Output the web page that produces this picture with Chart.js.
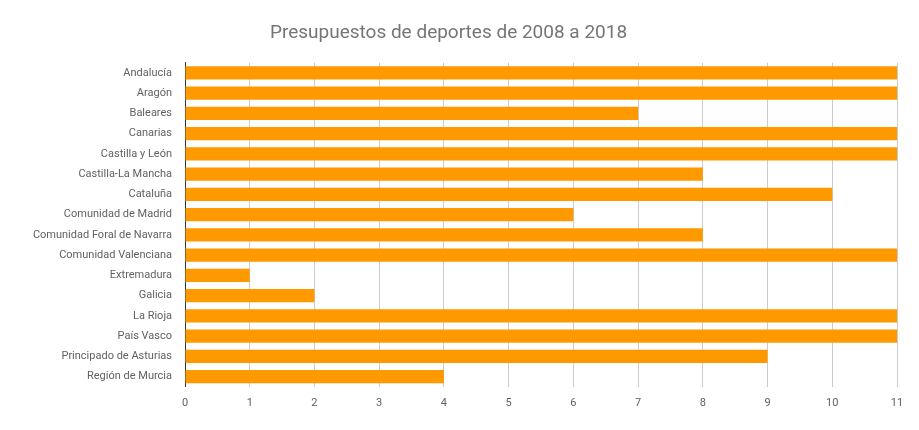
<!DOCTYPE html>
<html>
<head>
<meta charset="utf-8">
<script src="https://cdn.jsdelivr.net/npm/chart.js@4/dist/chart.umd.min.js"></script>
<style>
  html, body { margin: 0; padding: 0; background: #fff; }
  #wrap { width: 919px; height: 430px; }
</style>
</head>
<body>
<div id="wrap"><canvas id="chart"></canvas></div>
<script>
const regions = [
  'Andalucía', 'Aragón', 'Baleares', 'Canarias', 'Castilla y León',
  'Castilla-La Mancha', 'Cataluña', 'Comunidad de Madrid',
  'Comunidad Foral de Navarra', 'Comunidad Valenciana', 'Extremadura',
  'Galicia', 'La Rioja', 'País Vasco', 'Principado de Asturias', 'Región de Murcia'
];
const budgets = [11, 11, 7, 11, 11, 8, 10, 6, 8, 11, 1, 2, 11, 11, 9, 4];
const xTicks = [0, 1, 2, 3, 4, 5, 6, 7, 8, 9, 10, 11];

new Chart(document.getElementById('chart'), {
  type: 'bar',
  data: {
    labels: regions,
    datasets: [{
      data: budgets,
      backgroundColor: '#ff9900',
      barPercentage: 0.65,
      categoryPercentage: 1
    }]
  },
  options: {
    indexAxis: 'y',
    responsive: true,
    maintainAspectRatio: false,
    animation: false,
    layout: { padding: { top: 8, right: 22, bottom: 10, left: 0 } },
    plugins: {
      legend: { display: false },
      tooltip: { enabled: false },
      title: {
        display: true,
        text: 'Presupuestos de deportes de 2008 a 2018',
        color: '#757575',
        font: { family: 'Roboto', size: 19, weight: 'normal' },
        padding: { top: 14, bottom: 18 }
      }
    },
    scales: {
      x: {
        min: 0,
        max: 11,
        afterBuildTicks: axis => { axis.ticks = xTicks.map(v => ({ value: v })); },
        grid: { color: '#cccccc', drawTicks: false },
        border: { display: false },
        ticks: { color: '#616161', font: { family: 'Roboto', size: 11 }, padding: 10 }
      },
      y: {
        grid: { display: false },
        border: { color: '#333333' },
        afterFit: axis => { axis.width = 185; },
        ticks: { color: '#616161', font: { family: 'Roboto', size: 11 }, padding: 5, autoSkip: false }
      }
    }
  }
});
</script>
</body>
</html>
